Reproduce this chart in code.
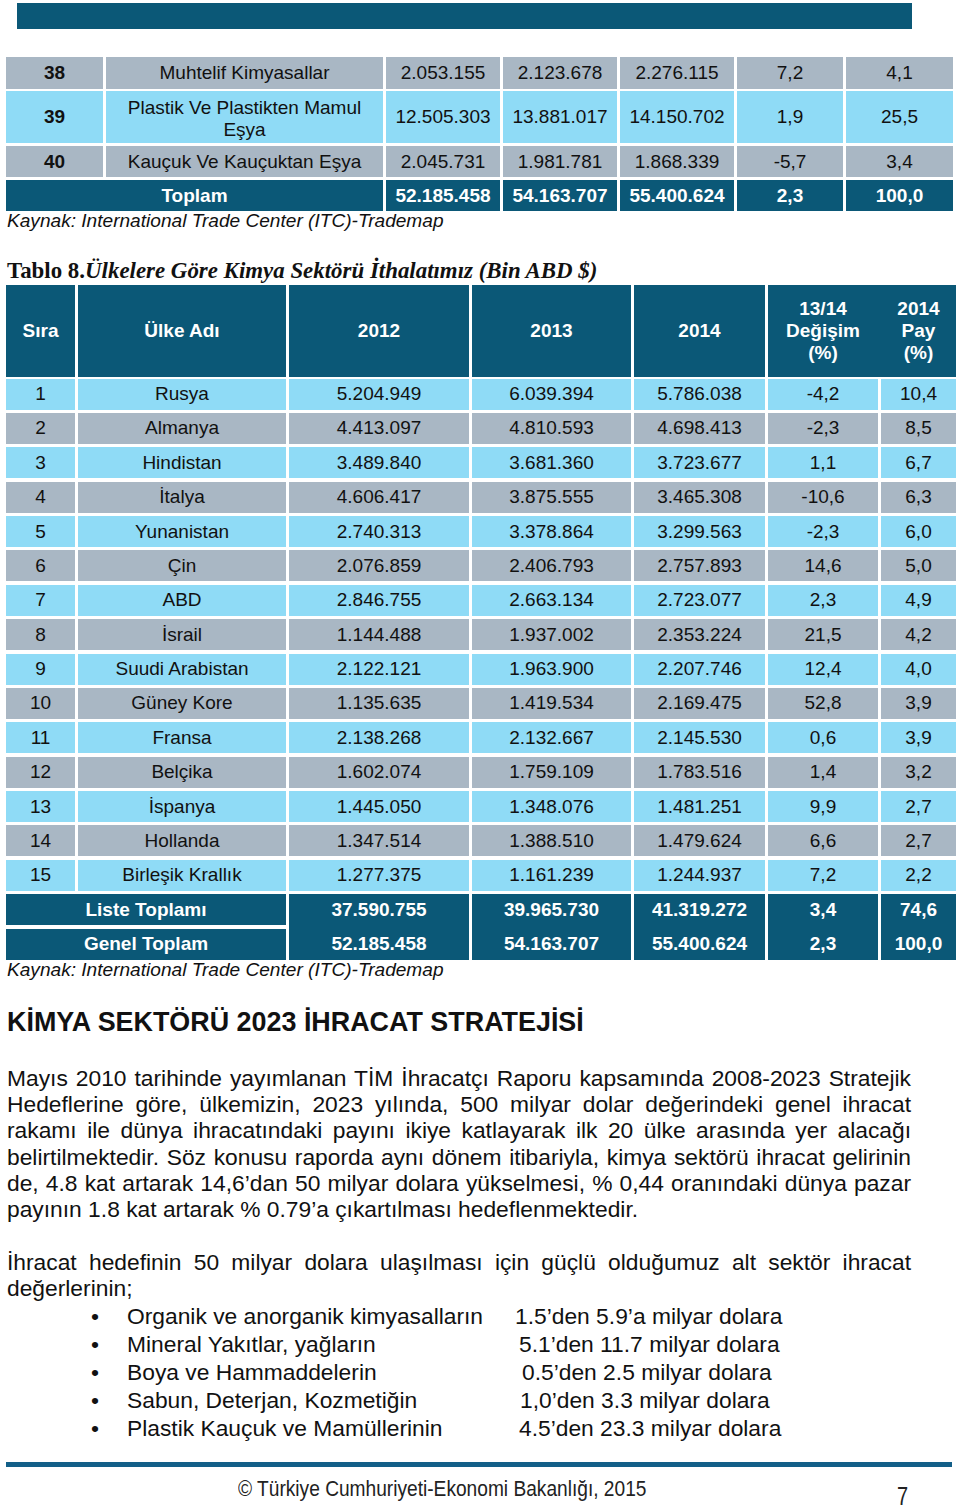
import React from "react";

// ---------- DATA ----------
const t1Codes = ["38", "39", "40"];
const t1Names = ["Muhtelif Kimyasallar", "Plastik Ve Plastikten Mamul Eşya", "Kauçuk Ve Kauçuktan Eşya"];
const t1Y2012 = ["2.053.155", "12.505.303", "2.045.731"];
const t1Y2013 = ["2.123.678", "13.881.017", "1.981.781"];
const t1Y2014 = ["2.276.115", "14.150.702", "1.868.339"];
const t1Change = ["7,2", "1,9", "-5,7"];
const t1Share = ["4,1", "25,5", "3,4"];
const t1Total = ["52.185.458", "54.163.707", "55.400.624", "2,3", "100,0"];

const t8Headers = ["Sıra", "Ülke Adı", "2012", "2013", "2014", "13/14\nDeğişim\n(%)", "2014\nPay\n(%)"];
const t8Countries = ["Rusya", "Almanya", "Hindistan", "İtalya", "Yunanistan", "Çin", "ABD", "İsrail", "Suudi Arabistan", "Güney Kore", "Fransa", "Belçika", "İspanya", "Hollanda", "Birleşik Krallık"];
const t8Y2012 = ["5.204.949", "4.413.097", "3.489.840", "4.606.417", "2.740.313", "2.076.859", "2.846.755", "1.144.488", "2.122.121", "1.135.635", "2.138.268", "1.602.074", "1.445.050", "1.347.514", "1.277.375"];
const t8Y2013 = ["6.039.394", "4.810.593", "3.681.360", "3.875.555", "3.378.864", "2.406.793", "2.663.134", "1.937.002", "1.963.900", "1.419.534", "2.132.667", "1.759.109", "1.348.076", "1.388.510", "1.161.239"];
const t8Y2014 = ["5.786.038", "4.698.413", "3.723.677", "3.465.308", "3.299.563", "2.757.893", "2.723.077", "2.353.224", "2.207.746", "2.169.475", "2.145.530", "1.783.516", "1.481.251", "1.479.624", "1.244.937"];
const t8Change = ["-4,2", "-2,3", "1,1", "-10,6", "-2,3", "14,6", "2,3", "21,5", "12,4", "52,8", "0,6", "1,4", "9,9", "6,6", "7,2"];
const t8Share = ["10,4", "8,5", "6,7", "6,3", "6,0", "5,0", "4,9", "4,2", "4,0", "3,9", "3,9", "3,2", "2,7", "2,7", "2,2"];
const t8ListLabel = "Liste Toplamı";
const t8List = ["37.590.755", "39.965.730", "41.319.272", "3,4", "74,6"];
const t8GrandLabel = "Genel Toplam";
const t8Grand = ["52.185.458", "54.163.707", "55.400.624", "2,3", "100,0"];

const sourceText = "Kaynak: International Trade Center (ITC)-Trademap";
const tableTitleA = "Tablo 8.";
const tableTitleB = "Ülkelere Göre Kimya Sektörü İthalatımız (Bin ABD $)";
const heading = "KİMYA SEKTÖRÜ 2023 İHRACAT STRATEJİSİ";
const para1 = [
  "Mayıs 2010 tarihinde yayımlanan TİM İhracatçı Raporu kapsamında 2008-2023 Stratejik",
  "Hedeflerine göre, ülkemizin, 2023 yılında, 500 milyar dolar değerindeki genel ihracat",
  "rakamı ile dünya ihracatındaki payını ikiye katlayarak ilk 20 ülke arasında yer alacağı",
  "belirtilmektedir. Söz konusu raporda aynı dönem itibariyla, kimya sektörü  ihracat gelirinin",
  "de, 4.8 kat artarak 14,6’dan 50 milyar dolara yükselmesi, % 0,44 oranındaki dünya pazar",
  "payının 1.8 kat artarak % 0.79’a çıkartılması hedeflenmektedir.",
];
const para2 = [
  "İhracat hedefinin 50 milyar dolara ulaşılması için güçlü olduğumuz alt sektör ihracat",
  "değerlerinin;",
];
const bulletNames = ["Organik ve anorganik kimyasalların", "Mineral Yakıtlar, yağların", "Boya ve Hammaddelerin", "Sabun, Deterjan, Kozmetiğin", "Plastik Kauçuk ve Mamüllerinin"];
const bulletTargets = ["1.5’den 5.9’a milyar dolara", "5.1’den 11.7 milyar dolara", "0.5’den 2.5 milyar dolara", "1,0’den 3.3 milyar dolara", "4.5’den 23.3 milyar dolara"];
const footerText = "© Türkiye Cumhuriyeti-Ekonomi Bakanlığı, 2015";
const pageNumber = "7";

// ---------- STYLE / LAYOUT ----------
const DARK = "#0b5877";
const LIGHT = "#8fdbf6";
const GRAY = "#a9b7c4";
const SANS = "'Liberation Sans', Arial, sans-serif";
const SERIF = "'Liberation Serif', 'Times New Roman', serif";
const BODY_FS = 22.8;

const T1_COLS = [[6, 103], [106, 383], [386, 500], [503, 617], [620, 734], [737, 843], [846, 953]];
const T1_ROWS = [[57, 89], [91, 143], [146, 177], [180, 211]];
const T8_COLS = [[6, 75], [78, 286], [289, 469], [472, 631], [634, 765], [768, 878], [881, 956]];
const T8_HEAD = [285, 377];
const T8_ROW0 = 378.6;
const T8_PITCH = 34.375;
const T8_ROWH = 31;

type CellProps = { x0: number; x1: number; y0: number; y1: number; bg: string; color?: string; bold?: boolean; children?: React.ReactNode; lh?: number };
function Cell({ x0, x1, y0, y1, bg, color = "#111", bold = false, children, lh = 22 }: CellProps) {
  return (
    <div
      style={{
        position: "absolute",
        left: x0,
        top: y0,
        width: x1 - x0,
        height: y1 - y0,
        background: bg,
        color,
        fontFamily: SANS,
        fontSize: 19,
        fontWeight: bold ? 700 : 400,
        lineHeight: lh + "px",
        display: "flex",
        alignItems: "center",
        justifyContent: "center",
        textAlign: "center",
        whiteSpace: "pre-line",
        boxSizing: "border-box",
        padding: "0 4px",
      }}
    >
      {children}
    </div>
  );
}

function Table1() {
  const cells: React.ReactNode[] = [];
  t1Codes.forEach((code, i) => {
    const bg = i % 2 === 0 ? GRAY : LIGHT;
    const [y0, y1] = T1_ROWS[i];
    const vals = [code, t1Names[i], t1Y2012[i], t1Y2013[i], t1Y2014[i], t1Change[i], t1Share[i]];
    vals.forEach((v, c) => {
      cells.push(
        <Cell key={`r${i}c${c}`} x0={T1_COLS[c][0]} x1={T1_COLS[c][1]} y0={y0} y1={y1} bg={bg} bold={c === 0}>
          {c === 1 && v.length > 28 ? <span style={{ padding: "0 14px", position: "relative", top: 2 }}>{v}</span> : v}
        </Cell>
      );
    });
  });
  const [ty0, ty1] = T1_ROWS[3];
  cells.push(
    <Cell key="tot" x0={T1_COLS[0][0]} x1={T1_COLS[1][1]} y0={ty0} y1={ty1} bg={DARK} color="#fff" bold>
      Toplam
    </Cell>
  );
  t1Total.forEach((v, k) => {
    const c = k + 2;
    cells.push(
      <Cell key={`t${k}`} x0={T1_COLS[c][0]} x1={T1_COLS[c][1]} y0={ty0} y1={ty1} bg={DARK} color="#fff" bold>
        {v}
      </Cell>
    );
  });
  return <>{cells}</>;
}

function Table8() {
  const cells: React.ReactNode[] = [];
  for (let c = 0; c < 5; c++) {
    cells.push(
      <Cell key={`h${c}`} x0={T8_COLS[c][0]} x1={T8_COLS[c][1]} y0={T8_HEAD[0]} y1={T8_HEAD[1]} bg={DARK} color="#fff" bold>
        {t8Headers[c]}
      </Cell>
    );
  }
  cells.push(<div key="h56bg" style={{ position: "absolute", left: T8_COLS[5][0], top: T8_HEAD[0], width: T8_COLS[6][1] - T8_COLS[5][0], height: T8_HEAD[1] - T8_HEAD[0], background: DARK }} />);
  cells.push(<Cell key="h5" x0={T8_COLS[5][0]} x1={T8_COLS[5][1]} y0={T8_HEAD[0]} y1={T8_HEAD[1]} bg="transparent" color="#fff" bold>{t8Headers[5]}</Cell>);
  cells.push(<Cell key="h6" x0={T8_COLS[6][0]} x1={T8_COLS[6][1]} y0={T8_HEAD[0]} y1={T8_HEAD[1]} bg="transparent" color="#fff" bold>{t8Headers[6]}</Cell>);

  t8Countries.forEach((name, i) => {
    const bg = i % 2 === 0 ? LIGHT : GRAY;
    const y0 = T8_ROW0 + T8_PITCH * i;
    const y1 = y0 + T8_ROWH;
    const vals = [String(i + 1), name, t8Y2012[i], t8Y2013[i], t8Y2014[i], t8Change[i], t8Share[i]];
    vals.forEach((v, c) => {
      cells.push(
        <Cell key={`r${i}c${c}`} x0={T8_COLS[c][0]} x1={T8_COLS[c][1]} y0={y0} y1={y1} bg={bg}>
          {v}
        </Cell>
      );
    });
  });
  const ly0 = T8_ROW0 + T8_PITCH * 15;
  const gy0 = T8_ROW0 + T8_PITCH * 16;
  const gy1 = gy0 + T8_ROWH;
  cells.push(<Cell key="ll" x0={T8_COLS[0][0]} x1={T8_COLS[1][1]} y0={ly0} y1={ly0 + T8_ROWH} bg={DARK} color="#fff" bold>{t8ListLabel}</Cell>);
  cells.push(<Cell key="gl" x0={T8_COLS[0][0]} x1={T8_COLS[1][1]} y0={gy0} y1={gy1} bg={DARK} color="#fff" bold>{t8GrandLabel}</Cell>);
  t8List.forEach((v, k) => {
    const c = k + 2;
    cells.push(
      <div key={`lg${k}`} style={{ position: "absolute", left: T8_COLS[c][0], top: ly0, width: T8_COLS[c][1] - T8_COLS[c][0], height: gy1 - ly0, background: DARK }} />
    );
    cells.push(<Cell key={`lv${k}`} x0={T8_COLS[c][0]} x1={T8_COLS[c][1]} y0={ly0} y1={ly0 + T8_ROWH} bg="transparent" color="#fff" bold>{v}</Cell>);
    cells.push(<Cell key={`gv${k}`} x0={T8_COLS[c][0]} x1={T8_COLS[c][1]} y0={gy0} y1={gy1} bg="transparent" color="#fff" bold>{t8Grand[k]}</Cell>);
  });
  return <>{cells}</>;
}

function JustLine({ text, top, last, left = 7, width = 904 }: { text: string; top: number; last?: boolean; left?: number; width?: number }) {
  return (
    <div
      style={{
        position: "absolute",
        left,
        top,
        width,
        fontFamily: SANS,
        fontSize: BODY_FS,
        lineHeight: "26px",
        color: "#111",
        whiteSpace: "nowrap",
        textAlign: last ? "left" : "justify",
        textAlignLast: last ? "left" : "justify",
      } as React.CSSProperties}
    >
      {text}
    </div>
  );
}

const NARROW = "'Liberation Sans Narrow', 'Arial Narrow', 'Liberation Sans', sans-serif";

export default function App() {
  return (
    <div style={{ position: "absolute", left: 0, top: 0, width: 960, height: 1509, background: "#fff", overflow: "hidden" }}>
      <div style={{ position: "absolute", left: 17, top: 3, width: 895, height: 26, background: DARK }} />
      <Table1 />
      <div style={{ position: "absolute", left: 7, top: 210, fontFamily: SANS, fontStyle: "italic", fontSize: 19.1, lineHeight: "22px", color: "#111", whiteSpace: "nowrap" }}>{sourceText}</div>

      <div style={{ position: "absolute", left: 7, top: 258, fontFamily: SERIF, fontWeight: 700, fontSize: 22.9, lineHeight: "26px", color: "#111", whiteSpace: "nowrap" }}>
        {tableTitleA}
        <span style={{ fontStyle: "italic" }}>{tableTitleB}</span>
      </div>
      <Table8 />
      <div style={{ position: "absolute", left: 7, top: 959, fontFamily: SANS, fontStyle: "italic", fontSize: 19.1, lineHeight: "22px", color: "#111", whiteSpace: "nowrap" }}>{sourceText}</div>

      <div style={{ position: "absolute", left: 7, top: 1006, fontFamily: SANS, fontWeight: 700, fontSize: 26.9, lineHeight: "32px", color: "#111", whiteSpace: "nowrap" }}>{heading}</div>

      {para1.map((l, i) => (
        <JustLine key={`p1${i}`} text={l} top={1065 + i * 26.2} last={i === para1.length - 1} />
      ))}
      {para2.map((l, i) => (
        <JustLine key={`p2${i}`} text={l} top={1249 + i * 26.2} last={i === para2.length - 1} />
      ))}

      {bulletNames.map((b, i) => (
        <React.Fragment key={`b${i}`}>
          <div style={{ position: "absolute", left: 91, top: 1302 + i * 28, fontFamily: SANS, fontSize: BODY_FS, lineHeight: "28px", color: "#111" }}>•</div>
          <div style={{ position: "absolute", left: 127, top: 1302 + i * 28, fontFamily: SANS, fontSize: BODY_FS, lineHeight: "28px", color: "#111", whiteSpace: "nowrap" }}>{b}</div>
          <div style={{ position: "absolute", left: [515, 519, 522, 520, 519][i], top: 1302 + i * 28, fontFamily: SANS, fontSize: BODY_FS, lineHeight: "28px", color: "#111", whiteSpace: "nowrap" }}>{bulletTargets[i]}</div>
        </React.Fragment>
      ))}

      <div style={{ position: "absolute", left: 6, top: 1462, width: 946, height: 5, background: "#135f88" }} />
      <div style={{ position: "absolute", left: 238, top: 1476, fontFamily: NARROW, fontSize: 22, lineHeight: "26px", color: "#222", whiteSpace: "nowrap", transform: "scaleX(0.87)", transformOrigin: "0 0" }}>{footerText}</div>
      <div style={{ position: "absolute", left: 897, top: 1481, fontFamily: NARROW, fontSize: 25, lineHeight: "30px", color: "#222", transform: "scaleX(0.8)", transformOrigin: "0 0" }}>{pageNumber}</div>
    </div>
  );
}
